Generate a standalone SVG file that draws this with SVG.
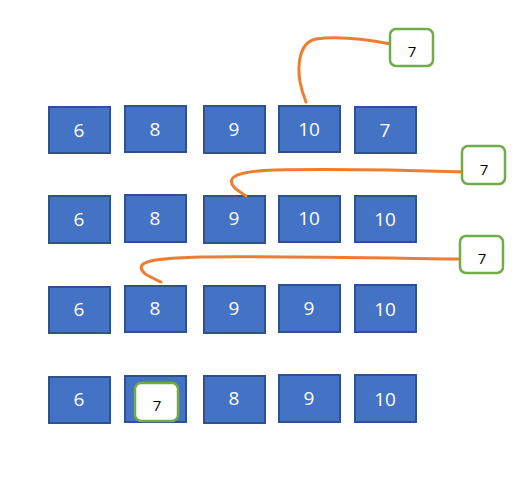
<svg xmlns="http://www.w3.org/2000/svg" width="531" height="479" viewBox="0 0 531 479">
<style>
.b rect{fill:#4472C4;stroke:#2F528F;stroke-width:2}
.b text{fill:#fff;font-family:"Open Sans","Liberation Sans",sans-serif;font-size:19px;text-anchor:middle}
.g rect{fill:#fff;stroke:#70AD47;stroke-width:2.5}
.g text{fill:#000;font-family:"Open Sans","Liberation Sans",sans-serif;font-size:15px;text-anchor:middle}
.c path{fill:none;stroke:#ED7D31;stroke-width:3;stroke-linecap:round}
</style>
<rect width="531" height="479" fill="#fff"/>
<g id="r1c1" class="b"><rect x="49" y="107" width="61" height="46"/><text x="79" y="137">6</text></g>
<g id="r1c2" class="b"><rect x="125" y="106" width="61" height="46"/><text x="155" y="136">8</text></g>
<g id="r1c3" class="b"><rect x="204" y="106" width="61" height="47"/><text x="234" y="136">9</text></g>
<g id="r1c4" class="b"><rect x="279" y="106" width="61" height="46"/><text x="309" y="136">10</text></g>
<g id="r1c5" class="b"><rect x="355" y="107" width="61" height="46"/><text x="385" y="137">7</text></g>

<g id="r2c1" class="b"><rect x="49" y="196" width="61" height="47"/><text x="79" y="226">6</text></g>
<g id="r2c2" class="b"><rect x="125" y="195" width="61" height="47"/><text x="155" y="225">8</text></g>
<g id="r2c3" class="b"><rect x="204" y="196" width="61" height="47"/><text x="234" y="225">9</text></g>
<g id="r2c4" class="b"><rect x="279" y="196" width="61" height="46"/><text x="309" y="225">10</text></g>
<g id="r2c5" class="b"><rect x="355" y="196" width="61" height="46"/><text x="385" y="226">10</text></g>

<g id="r3c1" class="b"><rect x="49" y="287" width="61" height="46"/><text x="79" y="316">6</text></g>
<g id="r3c2" class="b"><rect x="125" y="286" width="61" height="46"/><text x="155" y="315">8</text></g>
<g id="r3c3" class="b"><rect x="204" y="286" width="61" height="47"/><text x="234" y="315">9</text></g>
<g id="r3c4" class="b"><rect x="279" y="285" width="61" height="47"/><text x="309" y="315">9</text></g>
<g id="r3c5" class="b"><rect x="355" y="285" width="61" height="47"/><text x="385" y="316">10</text></g>

<g id="r4c1" class="b"><rect x="49" y="377" width="61" height="46"/><text x="79" y="406">6</text></g>
<g id="r4c2" class="b"><rect x="125" y="376" width="61" height="46"/></g>
<g id="r4c3" class="b"><rect x="204" y="376" width="61" height="47"/><text x="234" y="405">8</text></g>
<g id="r4c4" class="b"><rect x="279" y="375" width="61" height="47"/><text x="309" y="405">9</text></g>
<g id="r4c5" class="b"><rect x="355" y="375" width="61" height="47"/><text x="385" y="406">10</text></g>

<g id="connectors" class="c">
<path d="M391,44 C365,39 335,36 316,39 C297,43 298,70 300,82 C302,92 304,97 306,102"/>
<path d="M467,172 C400,170 320,169 275,170 C250,171 236,173 232,179 C229,186 239,191 246,196"/>
<path d="M460,259 C380,258 260,256 200,257 C165,258 146,260 142,265 C138,272 150,277 161,282"/>
</g>

<g id="g1" class="g"><rect x="390" y="29" width="43" height="37" rx="6"/><text x="412" y="57">7</text></g>
<g id="g2" class="g"><rect x="462" y="146" width="43" height="38" rx="6"/><text x="484" y="175">7</text></g>
<g id="g3" class="g"><rect x="460" y="236" width="43" height="37" rx="6"/><text x="482" y="264">7</text></g>
<g id="g4" class="g"><rect x="135" y="383" width="43" height="38" rx="6"/><text x="157" y="411">7</text></g>
</svg>
